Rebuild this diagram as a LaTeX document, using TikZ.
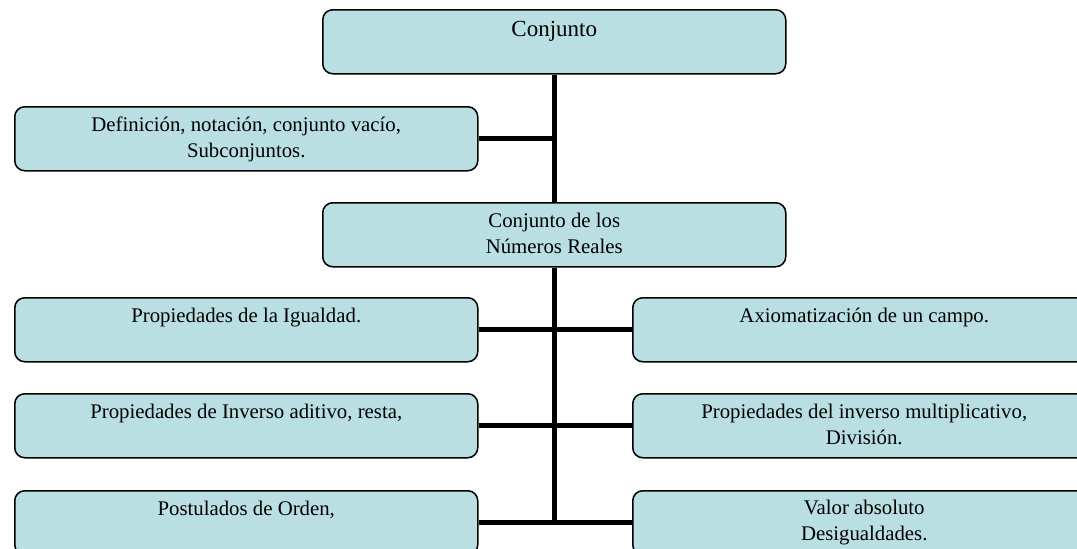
\documentclass[tikz,border=0pt]{standalone}
\usepackage{fontspec}
\setmainfont{Liberation Serif}
\usetikzlibrary{positioning}
\definecolor{cajafondo}{RGB}{185,223,227}
\tikzset{
  caja/.style={draw=black, line width=1.5pt, rounded corners=10pt, fill=cajafondo,
    minimum width=463pt, minimum height=64pt, inner sep=0pt, anchor=north west},
  texto/.style={anchor=north, inner sep=0pt, align=center,
    font=\fontsize{20.8}{26}\selectfont},
  linea/.style={draw=black, line width=5pt}
}
\begin{document}
\begin{tikzpicture}[x=1pt,y=-1pt]
  \useasboundingbox (0,0) rectangle (1077,549);
  % Cajas
  \node[caja] (conj) at (322,9) {};
  \node[caja] (defin) at (14,106) {};
  \node[caja] (reales) at (322,202) {};
  \node[caja] (igualdad) at (14,297) {};
  \node[caja] (axioma) at (632,297) {};
  \node[caja] (aditivo) at (14,393) {};
  \node[caja] (multi) at (632,393) {};
  \node[caja] (orden) at (14,490) {};
  \node[caja] (absoluto) at (632,490) {};
  % Textos
  \node[texto, font=\fontsize{23}{26}\selectfont] (conjtxt) at ([yshift=-8.8pt]conj.north) {\strut Conjunto};
  \node[texto] (defintxt) at ([yshift=-6.8pt]defin.north) {\strut Definición, notación, conjunto vacío,\\Subconjuntos.};
  \node[texto] (realestxt) at ([yshift=-6.8pt]reales.north) {\strut Conjunto de los\\Números Reales};
  \node[texto] (igualdadtxt) at ([yshift=-6.8pt]igualdad.north) {\strut Propiedades de la Igualdad.};
  \node[texto] (axiomatxt) at ([yshift=-6.8pt]axioma.north) {\strut Axiomatización de un campo.};
  \node[texto] (aditivotxt) at ([yshift=-6.8pt]aditivo.north) {\strut Propiedades de Inverso aditivo, resta,};
  \node[texto] (multitxt) at ([yshift=-6.8pt]multi.north) {\strut Propiedades del inverso multiplicativo,\\División.};
  \node[texto] (ordentxt) at ([yshift=-6.8pt]orden.north) {\strut Postulados de Orden,};
  \node[texto] (absolutotxt) at ([yshift=-5.8pt]absoluto.north) {\strut Valor absoluto\\Desigualdades.};
  % Conectores
  \draw[linea] (conj.south) -- (reales.north);
  \draw[linea] (reales.south) -- (reales.south |- orden.east);
  \draw[linea] (defin.east) -- (defin.east -| conj.south);
  \draw[linea] (igualdad.east) -- (axioma.west);
  \draw[linea] (aditivo.east) -- (multi.west);
  \draw[linea] (orden.east) -- (absoluto.west);
\end{tikzpicture}
\end{document}
